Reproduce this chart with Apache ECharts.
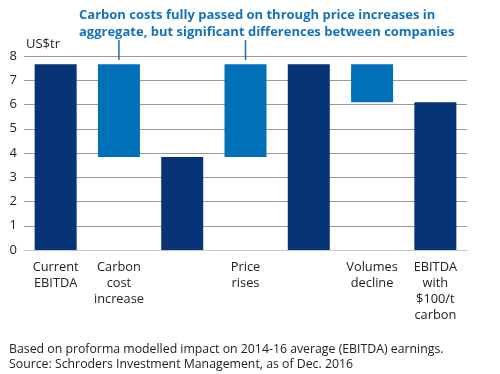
<!DOCTYPE html>
<html>
<head>
<meta charset="utf-8">
<script src="https://cdn.jsdelivr.net/npm/echarts@6/dist/echarts.min.js"></script>
<style>html,body{margin:0;padding:0;background:#fff;}#c{width:500px;height:374px;}</style>
</head>
<body>
<div id="c"></div>
<script>
var categories = ['Current\nEBITDA', 'Carbon\ncost\nincrease', '', 'Price\nrises', '', 'Volumes\ndecline', 'EBITDA\nwith\n$100/t\ncarbon'];
var barLow  = [0, 3.83, 0, 3.83, 0, 6.09, 0];
var barHigh = [7.66, 7.66, 3.83, 7.66, 7.66, 7.66, 6.09];
var barKind = ['total', 'change', 'total', 'change', 'total', 'change', 'total'];
var yTicks = [0, 1, 2, 3, 4, 5, 6, 7, 8];
// annotation leader lines: [category index, from value, to value]
var leaders = [[1, 7.83, 8.66], [3, 7.83, 8.66]];

var DARK = '#073476', LIGHT = '#0070b9', FONT = '"Open Sans", "Noto Sans", sans-serif';

var baseData = barLow.slice();
var visData = barHigh.map(function (h, i) {
  return { value: h - barLow[i], itemStyle: { color: barKind[i] === 'total' ? DARK : LIGHT } };
});

var chart = echarts.init(document.getElementById('c'), null, { renderer: 'canvas' });
chart.setOption({
  animation: false,
  textStyle: { fontFamily: FONT },
  title: [
    {
      text: 'Carbon costs fully passed on through price increases in\naggregate, but significant differences between companies',
      left: 74, top: 2,
      textStyle: { fontFamily: FONT, fontSize: 13, fontWeight: 'bold', color: '#1472bb', lineHeight: 17 }
    },
    {
      text: 'Based on proforma modelled impact on 2014-16 average (EBITDA) earnings.\nSource: Schroders Investment Management, as of Dec. 2016',
      left: 4, top: 337,
      textStyle: { fontFamily: FONT, fontSize: 12.3, fontWeight: 'normal', color: '#222', lineHeight: 15 }
    }
  ],
  grid: { left: 24, right: 33, top: 56, bottom: 124, containLabel: false },
  xAxis: {
    type: 'category',
    data: categories,
    axisTick: { show: false },
    axisLine: { show: true, lineStyle: { color: '#c8c8c8', width: 1 } },
    axisLabel: { interval: 0, margin: 9, fontSize: 12.8, lineHeight: 16, color: '#222', fontFamily: FONT }
  },
  yAxis: {
    type: 'value',
    min: yTicks[0], max: yTicks[yTicks.length - 1], interval: 1,
    name: 'US$tr',
    nameLocation: 'end',
    nameGap: 5,
    nameTextStyle: { align: 'left', fontSize: 13, color: '#222', fontFamily: FONT, padding: [0, 0, 0, 2] },
    axisLine: { show: false },
    axisTick: { show: false },
    axisLabel: { margin: 7, fontSize: 13, color: '#222', fontFamily: FONT, padding: [0, 0, 7, 0] },
    splitLine: { lineStyle: { color: '#9a9a9a', width: 1 } }
  },
  series: [
    {
      type: 'bar', stack: 'w', data: baseData, barWidth: 42,
      itemStyle: { color: 'transparent' }, silent: true
    },
    {
      type: 'bar', stack: 'w', data: visData, barWidth: 42
    },
    {
      type: 'custom', data: leaders, clip: false, silent: true,
      renderItem: function (params, api) {
        var p1 = api.coord([api.value(0), api.value(1)]);
        var p2 = api.coord([api.value(0), api.value(2)]);
        return {
          type: 'line',
          shape: { x1: p1[0], y1: p1[1], x2: p2[0], y2: p2[1] },
          style: { stroke: '#1472bb', lineWidth: 1.5 }
        };
      }
    }
  ]
});
</script>
</body>
</html>
